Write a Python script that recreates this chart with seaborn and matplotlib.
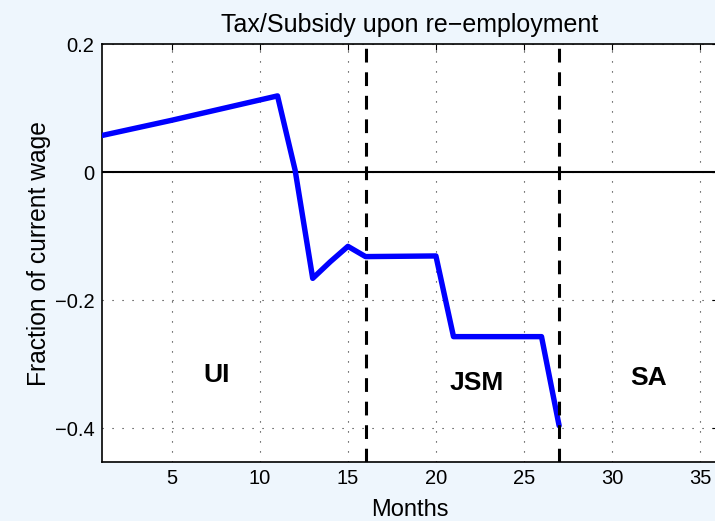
import seaborn as sns
import matplotlib.pyplot as plt
import pandas as pd

months = [1, 5, 11, 12, 13, 14, 15, 16, 20, 21, 26, 27]
tax = [0.057, 0.081, 0.119, 0.003, -0.166, -0.140, -0.116, -0.132, -0.131, -0.257, -0.257, -0.396]
phase_breaks = [16, 27]
phase_names = ["UI", "JSM", "SA"]
phase_x = [7.56, 22.33, 32.1]
phase_y = [-0.317, -0.330, -0.322]
xticks = [5, 10, 15, 20, 25, 30, 35]
yticks = [-0.4, -0.2, 0, 0.2]

data = pd.DataFrame({"Months": months, "Tax": tax})

sns.set_style("white")
plt.rcParams['font.family'] = ['Liberation Sans', 'DejaVu Sans']
plt.rcParams['text.color'] = 'black'
plt.rcParams['axes.labelcolor'] = 'black'
plt.rcParams['xtick.color'] = 'black'
plt.rcParams['ytick.color'] = 'black'

bg = "#eef6fd"
fig = plt.figure(figsize=(7.15, 5.21), dpi=100, facecolor=bg)
ax = fig.add_axes([0.142, 0.113, 0.8615, 0.8025])
ax.set_facecolor("white")

ax.axhline(0, color="black", lw=1.5, zorder=2)
sns.lineplot(data=data, x="Months", y="Tax", color="#0000ff", lw=3.9, ax=ax, zorder=3)
for b in phase_breaks:
    ax.axvline(b, color="black", lw=2.2, ls=(0, (4.5, 3.2)), zorder=4)
for name, tx, ty in zip(phase_names, phase_x, phase_y):
    ax.text(tx, ty, name, fontsize=19, fontweight="bold", ha="center", va="center", color="black")

ax.set_xlim(1, 36)
ax.set_ylim(-0.453, 0.2)
ax.set_xticks(xticks)
ax.set_yticks(yticks)
ax.set_yticklabels(["\u22120.4", "\u22120.2", "0", "0.2"])
ax.grid(True, ls=(0, (1, 8)), color="black", lw=0.8, alpha=0.85)
ax.tick_params(direction="in", length=4, top=True, right=True, labelsize=14.5, pad=5)
for s in ax.spines.values():
    s.set_linewidth(1.2)
    s.set_color("black")

ax.set_xlabel("Months", fontsize=17, labelpad=8)
ax.set_ylabel("Fraction of current wage", fontsize=17.7, labelpad=3)
ax.set_title("Tax/Subsidy upon re\u2212employment", fontsize=18, pad=9)

fig.savefig("out.png", dpi=100, facecolor=bg)
